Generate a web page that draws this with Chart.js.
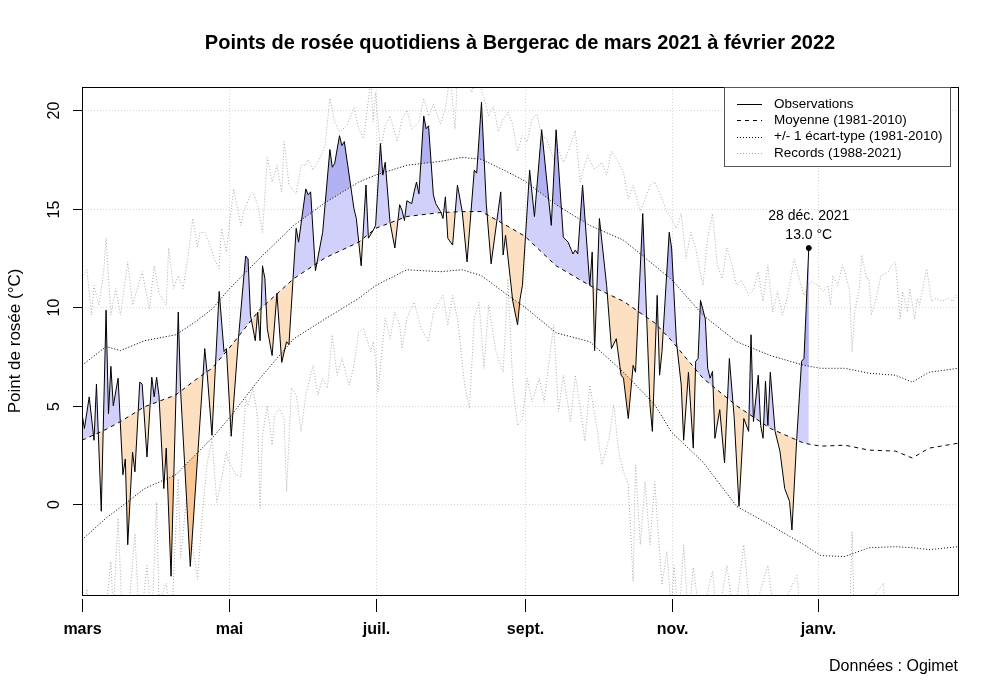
<!DOCTYPE html>
<html>
<head>
<meta charset="utf-8">
<script src="https://cdn.jsdelivr.net/npm/chart.js@4.4.1/dist/chart.umd.min.js"></script>
<style>
  html, body { margin: 0; padding: 0; background: #fff; }
</style>
</head>
<body>
<canvas id="myChart" width="1000" height="699"></canvas>
<script>
// jours depuis le 1er mars 2021
const monthLabels = ['mars', 'mai', 'juil.', 'sept.', 'nov.', 'janv.'];
const monthDays = [0, 61, 122, 184, 245, 306];
const yTicks = [0, 5, 10, 15, 20];

const obsDays = [
  0, 1, 3, 5, 6, 8, 10, 11, 12, 13, 15, 17, 18, 19, 21, 22, 24, 25, 27, 29,
  30, 31, 32, 34, 35, 37, 40, 41, 45, 50, 51, 52, 54, 57, 59, 60, 62, 65, 68, 69,
  70, 72, 73, 74, 75, 76, 77, 79, 81, 83, 85, 86, 89, 90, 93, 94, 95, 97, 100, 103,
  104, 105, 107, 108, 109, 113, 114, 116, 118, 119, 121, 122, 124, 125, 126, 128, 130, 132, 133, 134,
  135, 137, 138, 139, 140, 142, 143, 144, 146, 147, 149, 150, 151, 152, 154, 156, 158, 160, 163, 164,
  166, 168, 170, 174, 175, 176, 179, 181, 182, 183, 186, 188, 191, 195, 197, 200, 202, 204, 205, 206,
  208, 211, 212, 213, 215, 218, 220, 222, 224, 225, 227, 229, 230, 233, 236, 237, 239, 240, 241, 244,
  245, 247, 249, 250, 252, 254, 255, 256, 257, 259, 260, 261, 262, 263, 265, 267, 269, 271, 273, 275,
  277, 278, 279, 281, 282, 283, 284, 285, 286, 288, 290, 292, 294, 295, 297, 299, 300, 302
];
const obsVals = [
  4.6, 3.85, 5.45, 3.25, 6.1, -0.35, 9.85, 4.6, 7.0, 5.0, 6.4, 1.5, 2.3, -2.05, 2.65, 1.65, 6.2, 6.1, 2.4, 6.45,
  5.45, 6.45, 5.5, 0.8, 2.85, -3.65, 9.75, 5.7, -3.15, 6.0, 7.9, 6.65, 3.5, 10.8, 7.75, 7.9, 3.45, 8.4, 12.6, 12.45,
  9.6, 8.3, 9.75, 8.3, 12.1, 11.45, 8.9, 7.55, 10.7, 7.2, 8.25, 8.1, 14.0, 13.3, 16.0, 15.7, 15.85, 11.85, 13.8, 18.0,
  17.1, 17.3, 18.7, 18.2, 18.4, 15.0, 14.5, 12.1, 16.2, 13.5, 13.9, 14.15, 18.3, 16.7, 17.35, 14.3, 13.0, 15.2, 14.9, 14.4,
  15.4, 15.25, 15.85, 16.35, 15.75, 19.7, 19.05, 19.2, 15.7, 15.25, 14.85, 14.5, 15.6, 13.5, 13.15, 16.2, 14.85, 12.3, 16.95, 16.8,
  20.4, 15.2, 12.2, 15.85, 12.65, 13.65, 10.3, 9.1, 10.4, 11.1, 16.95, 14.6, 19.0, 14.15, 19.0, 13.55, 13.3, 12.7, 12.9, 12.7,
  16.2, 11.1, 12.8, 7.8, 14.5, 11.1, 7.9, 8.4, 6.55, 6.4, 4.35, 7.05, 6.7, 14.75, 5.05, 3.7, 10.6, 6.55, 7.75, 13.8,
  13.0, 8.25, 6.05, 3.25, 6.7, 2.85, 7.25, 7.4, 10.35, 9.4, 6.9, 6.4, 6.75, 3.35, 4.8, 2.1, 7.4, 4.4, -0.1, 4.35,
  3.7, 8.6, 4.2, 6.55, 4.0, 3.35, 6.25, 4.0, 6.7, 3.7, 2.7, 0.8, 0.15, -1.3, 3.35, 7.25, 7.4, 13.0
];

// normales 1981-2010
const normDays = [0, 10, 16, 26, 39, 47, 54, 61, 74, 88, 101, 115, 122, 135, 149, 158, 166, 177, 184, 197,
  211, 225, 238, 245, 258, 272, 286, 300, 307, 317, 327, 338, 345, 352, 364];
const meanVals = [3.25, 3.8, 4.2, 4.95, 5.55, 6.3, 6.9, 7.9, 9.9, 11.45, 12.5, 13.3, 14.0, 14.6, 14.8, 14.85, 14.85, 14.1, 13.6, 12.1,
  11.1, 10.3, 9.2, 8.3, 6.4, 5.0, 3.85, 3.1, 2.95, 3.0, 2.75, 2.7, 2.35, 2.85, 3.1];
const sdHighVals = [7.05, 8.0, 7.8, 8.3, 8.6, 9.25, 9.9, 10.9, 12.5, 14.15, 15.3, 16.35, 16.7, 17.2, 17.4, 17.6, 17.5, 16.85, 16.4, 15.2,
  14.15, 13.4, 12.1, 11.4, 9.6, 8.25, 7.55, 7.05, 6.9, 6.9, 6.65, 6.55, 6.2, 6.7, 6.9];
const sdLowVals = [-1.8, -0.7, -0.15, 0.8, 1.5, 2.5, 3.35, 4.35, 6.4, 8.4, 9.4, 10.45, 11.1, 11.9, 11.8, 11.9, 11.6, 10.6, 10.0, 8.7,
  8.25, 6.7, 5.05, 3.65, 2.15, -0.1, -1.05, -2.05, -2.6, -2.65, -2.2, -2.15, -2.2, -2.3, -2.15];

// records 1988-2021
const recMaxDays = [0, 2, 4, 5, 7, 9, 10, 12, 14, 16, 19, 21, 25, 28, 30, 32, 35, 36, 38, 40,
  42, 44, 46, 48, 49, 51, 53, 55, 57, 58, 60, 63, 66, 67, 70, 71, 73, 75, 77, 79,
  81, 83, 84, 86, 89, 91, 93, 94, 96, 99, 101, 103, 105, 107, 110, 113, 115, 117, 120, 121,
  122, 124, 126, 128, 131, 133, 135, 137, 140, 142, 144, 146, 149, 151, 153, 155, 156, 159, 162, 164,
  167, 169, 171, 173, 175, 177, 179, 181, 183, 185, 187, 189, 191, 193, 196, 198, 200, 202, 205, 207,
  210, 213, 216, 218, 220, 223, 225, 227, 229, 232, 234, 236, 238, 241, 243, 245, 247, 249, 251, 253,
  255, 258, 260, 262, 264, 266, 268, 270, 272, 274, 277, 279, 281, 283, 285, 287, 289, 291, 293, 296,
  298, 300, 303, 306, 308, 310, 311, 312, 314, 316, 317, 319, 320, 321, 323, 324, 326, 327, 328, 330,
  332, 335, 336, 338, 340, 341, 343, 344, 346, 347, 348, 351, 353, 355, 357, 360, 362, 363, 364];
const recMaxVals = [11.5, 11.9, 9.6, 11.1, 10.1, 11.8, 13.5, 9.6, 10.95, 9.6, 12.3, 10.1, 11.8, 9.9, 12.1, 10.7, 10.1, 13.0, 10.95, 11.6,
  10.95, 12.5, 14.5, 13.05, 13.8, 13.8, 13.2, 12.45, 11.95, 14.0, 12.8, 16.0, 14.15, 14.8, 15.7, 15.85, 15.2, 13.8, 17.6, 16.35,
  17.2, 15.85, 18.4, 16.2, 15.75, 17.2, 17.2, 17.5, 16.95, 17.6, 18.2, 20.6, 19.4, 18.9, 19.2, 20.1, 19.05, 18.55, 21.5, 19.4,
  20.9, 18.0, 19.2, 19.7, 18.4, 19.55, 20.0, 19.05, 19.4, 20.6, 19.7, 20.3, 19.3, 20.1, 21.8, 19.05, 21.8, 21.6, 20.9, 21.8,
  20.6, 19.7, 20.2, 18.9, 19.55, 19.9, 19.25, 17.9, 18.7, 18.4, 19.55, 19.8, 18.7, 18.55, 17.5, 18.0, 17.35, 17.9, 18.95, 16.35,
  17.7, 17.0, 17.35, 16.7, 17.9, 17.35, 16.85, 15.5, 16.2, 14.85, 15.5, 16.2, 16.35, 15.5, 14.85, 14.5, 14.0, 14.75, 12.45, 13.8,
  13.0, 11.1, 13.5, 14.75, 12.15, 11.45, 13.0, 12.2, 11.1, 11.4, 10.6, 10.9, 11.8, 10.3, 12.15, 9.75, 10.8, 9.6, 10.45, 12.45,
  11.45, 10.6, 11.3, 11.1, 10.8, 11.1, 10.1, 11.6, 11.1, 12.15, 11.8, 10.8, 7.75, 9.75, 10.95, 12.65, 11.45, 11.45, 9.6, 10.45,
  11.6, 11.8, 12.05, 12.3, 9.4, 10.8, 9.75, 10.95, 9.4, 10.45, 10.1, 11.95, 10.3, 10.45, 10.3, 10.45, 10.3, 10.6, 10.45];

const recMinDays = [0, 2, 4, 9, 12, 13, 15, 17, 20, 22, 24, 27, 29, 31, 32, 35, 37, 40, 41, 44,
  46, 48, 50, 52, 54, 56, 58, 60, 61, 64, 66, 68, 69, 71, 73, 74, 75, 77, 79, 80,
  82, 84, 85, 87, 89, 91, 93, 96, 98, 100, 102, 104, 106, 108, 111, 113, 115, 117, 120, 121,
  122, 123, 126, 128, 130, 132, 133, 135, 138, 141, 144, 146, 150, 152, 154, 156, 159, 161, 163, 165,
  167, 169, 172, 175, 177, 179, 181, 183, 185, 187, 190, 192, 196, 198, 200, 203, 205, 209, 211, 214,
  216, 219, 221, 223, 225, 227, 229, 230, 232, 234, 236, 238, 239, 241, 243, 245, 246, 248, 250, 252,
  254, 257, 262, 264, 268, 271, 275, 278, 285, 288, 297, 299, 319, 320, 321, 333, 334, 364];
const recMinVals = [-6.5, -4.3, -6.5, -6.5, -2.9, -5.5, -0.7, -6.5, -4.5, -1.5, -6.5, -3.1, -6.0, 0.1, -5.0, -4.0, -6.5, 1.3, -2.7, 1.0,
  -2.1, -3.8, -0.5, 2.1, 3.3, 0.1, 1.3, 2.65, 2.15, 1.5, 1.4, 5.35, 5.0, 5.9, 4.4, -0.2, 3.5, 5.0, 3.0, 4.5,
  4.85, 4.35, 0.65, 5.9, 5.55, 3.7, 5.55, 7.05, 5.55, 6.4, 5.9, 8.6, 6.55, 7.4, 6.05, 7.05, 8.75, 8.9, 7.75, 8.25,
  7.4, 5.7, 9.45, 8.4, 9.75, 9.1, 7.9, 9.45, 10.25, 8.9, 8.25, 9.75, 10.6, 9.1, 10.6, 9.45, 6.05, 4.85, 9.45, 10.25,
  6.9, 10.1, 7.75, 6.7, 11.45, 6.05, 4.0, 4.35, 6.4, 5.2, 6.4, 5.2, 9.1, 4.7, 6.55, 4.2, 6.55, 3.2, 6.05, 3.85,
  2.0, 3.35, 5.05, 2.65, 1.65, 1.0, -3.9, 2.0, -2.05, 1.15, -2.05, 1.15, -0.7, -4.1, -2.4, -5.5, -3.1, -6.0, -2.05, -6.0,
  -3.2, -6.0, -3.4, -6.0, -3.1, -6.0, -2.05, -6.0, -3.1, -6.0, -3.6, -6.0, -6.0, -1.4, -6.0, -4.0, -6.0, -6.0];

const lastDay = 302;
const lastVal = 13.0;
const lastLabel = ['28 déc. 2021', '13.0 °C'];

const legendItems = ['Observations', 'Moyenne (1981-2010)', '+/- 1 écart-type (1981-2010)', 'Records (1988-2021)'];

const FONT = "'Liberation Sans', Arial, sans-serif";
const lightBlue = 'rgb(208, 208, 250)';
const darkBlue = 'rgb(178, 178, 242)';
const lightOrange = 'rgb(253, 223, 193)';
const darkOrange = 'rgb(250, 199, 148)';
const none = 'rgba(0,0,0,0)';

const pts = (xs, ys) => xs.map((x, i) => ({x: x, y: ys[i]}));
const obsPts = pts(obsDays, obsVals);

const rPlot = {
  id: 'rPlot',
  beforeDatasetsDraw(chart) {
    const {ctx, chartArea: a, scales: {x, y}} = chart;
    ctx.save();
    ctx.strokeStyle = '#d8d8d8';
    ctx.lineWidth = 1;
    ctx.setLineDash([1, 2]);
    yTicks.forEach(v => {
      const py = Math.round(y.getPixelForValue(v)) + 0.5;
      ctx.beginPath(); ctx.moveTo(a.left, py); ctx.lineTo(a.right, py); ctx.stroke();
    });
    monthDays.forEach(d => {
      const px = Math.round(x.getPixelForValue(d)) + 0.5;
      ctx.beginPath(); ctx.moveTo(px, a.top); ctx.lineTo(px, a.bottom); ctx.stroke();
    });
    ctx.restore();
  },
  afterDatasetsDraw(chart) {
    const {ctx, chartArea: a, scales: {x, y}} = chart;
    ctx.save();
    // cadre
    ctx.strokeStyle = '#000';
    ctx.lineWidth = 1;
    ctx.strokeRect(Math.round(a.left) + 0.5, Math.round(a.top) + 0.5,
      Math.round(a.right - a.left), Math.round(a.bottom - a.top));

    // axe y
    ctx.fillStyle = '#000';
    ctx.font = '16px ' + FONT;
    ctx.textAlign = 'center';
    ctx.textBaseline = 'middle';
    yTicks.forEach(v => {
      const py = Math.round(y.getPixelForValue(v)) + 0.5;
      ctx.beginPath(); ctx.moveTo(a.left - 9, py); ctx.lineTo(a.left, py); ctx.stroke();
      ctx.save();
      ctx.translate(55, py);
      ctx.rotate(-Math.PI / 2);
      ctx.fillText(String(v), 0, 0);
      ctx.restore();
    });
    ctx.save();
    ctx.translate(15, (a.top + a.bottom) / 2);
    ctx.rotate(-Math.PI / 2);
    ctx.font = '17px ' + FONT;
    ctx.fillText('Point de rosée (°C)', 0, 0);
    ctx.restore();

    // axe x
    ctx.font = 'bold 16px ' + FONT;
    monthDays.forEach((d, i) => {
      const px = Math.round(x.getPixelForValue(d)) + 0.5;
      ctx.beginPath(); ctx.moveTo(px, a.bottom + 4); ctx.lineTo(px, a.bottom + 17); ctx.stroke();
      ctx.fillText(monthLabels[i], px, a.bottom + 35);
    });

    // légende
    const lx = 724.5, ly = 87.5, lw = 226, lh = 79;
    ctx.fillStyle = '#fff';
    ctx.fillRect(lx, ly, lw, lh);
    ctx.strokeStyle = '#555';
    ctx.strokeRect(lx, ly, lw, lh);
    const styles = [
      {dash: [], color: '#000'},
      {dash: [4, 4], color: '#000'},
      {dash: [1, 2], color: '#000'},
      {dash: [1, 2], color: '#aaa'}
    ];
    ctx.font = '13.5px ' + FONT;
    ctx.textAlign = 'left';
    legendItems.forEach((t, i) => {
      const ry = 104 + i * 16.3;
      ctx.strokeStyle = styles[i].color;
      ctx.setLineDash(styles[i].dash);
      ctx.beginPath(); ctx.moveTo(737, Math.round(ry) + 0.5); ctx.lineTo(762, Math.round(ry) + 0.5); ctx.stroke();
      ctx.fillStyle = '#000';
      ctx.fillText(t, 774, ry);
    });
    ctx.setLineDash([]);

    // annotation du dernier jour
    const px = x.getPixelForValue(lastDay);
    const py = y.getPixelForValue(lastVal);
    ctx.textAlign = 'center';
    ctx.font = '14px ' + FONT;
    ctx.fillText(lastLabel[0], px, py - 32);
    ctx.fillText(lastLabel[1], px, py - 13);

    // titre et source
    ctx.font = 'bold 20px ' + FONT;
    ctx.fillText('Points de rosée quotidiens à Bergerac de mars 2021 à février 2022', (a.left + a.right) / 2, 43);
    ctx.font = '16px ' + FONT;
    ctx.textAlign = 'right';
    ctx.fillText('Données : Ogimet', a.right, 667);
    ctx.restore();
  }
};

const ctx = document.getElementById('myChart').getContext('2d');
const myChart = new Chart(ctx, {
  type: 'line',
  data: {
    datasets: [
      { // 0
        label: 'Observations',
        data: obsPts,
        borderColor: '#000',
        borderWidth: 1,
        fill: false,
        order: 1
      },
      { // 1
        label: 'Moyenne',
        data: pts(normDays, meanVals),
        borderColor: '#000',
        borderWidth: 1,
        borderDash: [4, 4],
        fill: false,
        order: 3
      },
      { // 2
        label: '+1 écart-type',
        data: pts(normDays, sdHighVals),
        borderColor: '#000',
        borderWidth: 1,
        borderDash: [1, 2],
        fill: false,
        order: 3
      },
      { // 3
        label: '-1 écart-type',
        data: pts(normDays, sdLowVals),
        borderColor: '#000',
        borderWidth: 1,
        borderDash: [1, 2],
        fill: false,
        order: 3
      },
      { // 4 : écart à la moyenne
        data: obsPts,
        borderWidth: 0,
        fill: {target: 1, above: lightBlue, below: lightOrange},
        order: 6
      },
      { // 5 : au-dessus de +1 écart-type
        data: obsPts,
        borderWidth: 0,
        fill: {target: 2, above: darkBlue, below: none},
        order: 5
      },
      { // 6 : en dessous de -1 écart-type
        data: obsPts,
        borderWidth: 0,
        fill: {target: 3, above: none, below: darkOrange},
        order: 5
      },
      { // 7
        label: 'Record max',
        data: pts(recMaxDays, recMaxVals),
        borderColor: '#aaa',
        borderWidth: 1,
        borderDash: [1, 2],
        fill: false,
        order: 8
      },
      { // 8
        label: 'Record min',
        data: pts(recMinDays, recMinVals),
        borderColor: '#aaa',
        borderWidth: 1,
        borderDash: [1, 2],
        fill: false,
        order: 8
      },
      { // 9
        data: [{x: lastDay, y: lastVal}],
        showLine: false,
        pointRadius: 2.5,
        pointBackgroundColor: '#000',
        pointBorderColor: '#000',
        order: 0
      }
    ]
  },
  options: {
    responsive: false,
    animation: false,
    events: [],
    layout: {padding: {left: 82, right: 42, top: 87, bottom: 104}},
    elements: {
      point: {radius: 0},
      line: {tension: 0}
    },
    scales: {
      x: {type: 'linear', min: 0, max: 364, display: false},
      y: {type: 'linear', min: -4.6, max: 21.17, display: false}
    },
    plugins: {
      legend: {display: false},
      tooltip: {enabled: false}
    }
  },
  plugins: [rPlot]
});
</script>
</body>
</html>
